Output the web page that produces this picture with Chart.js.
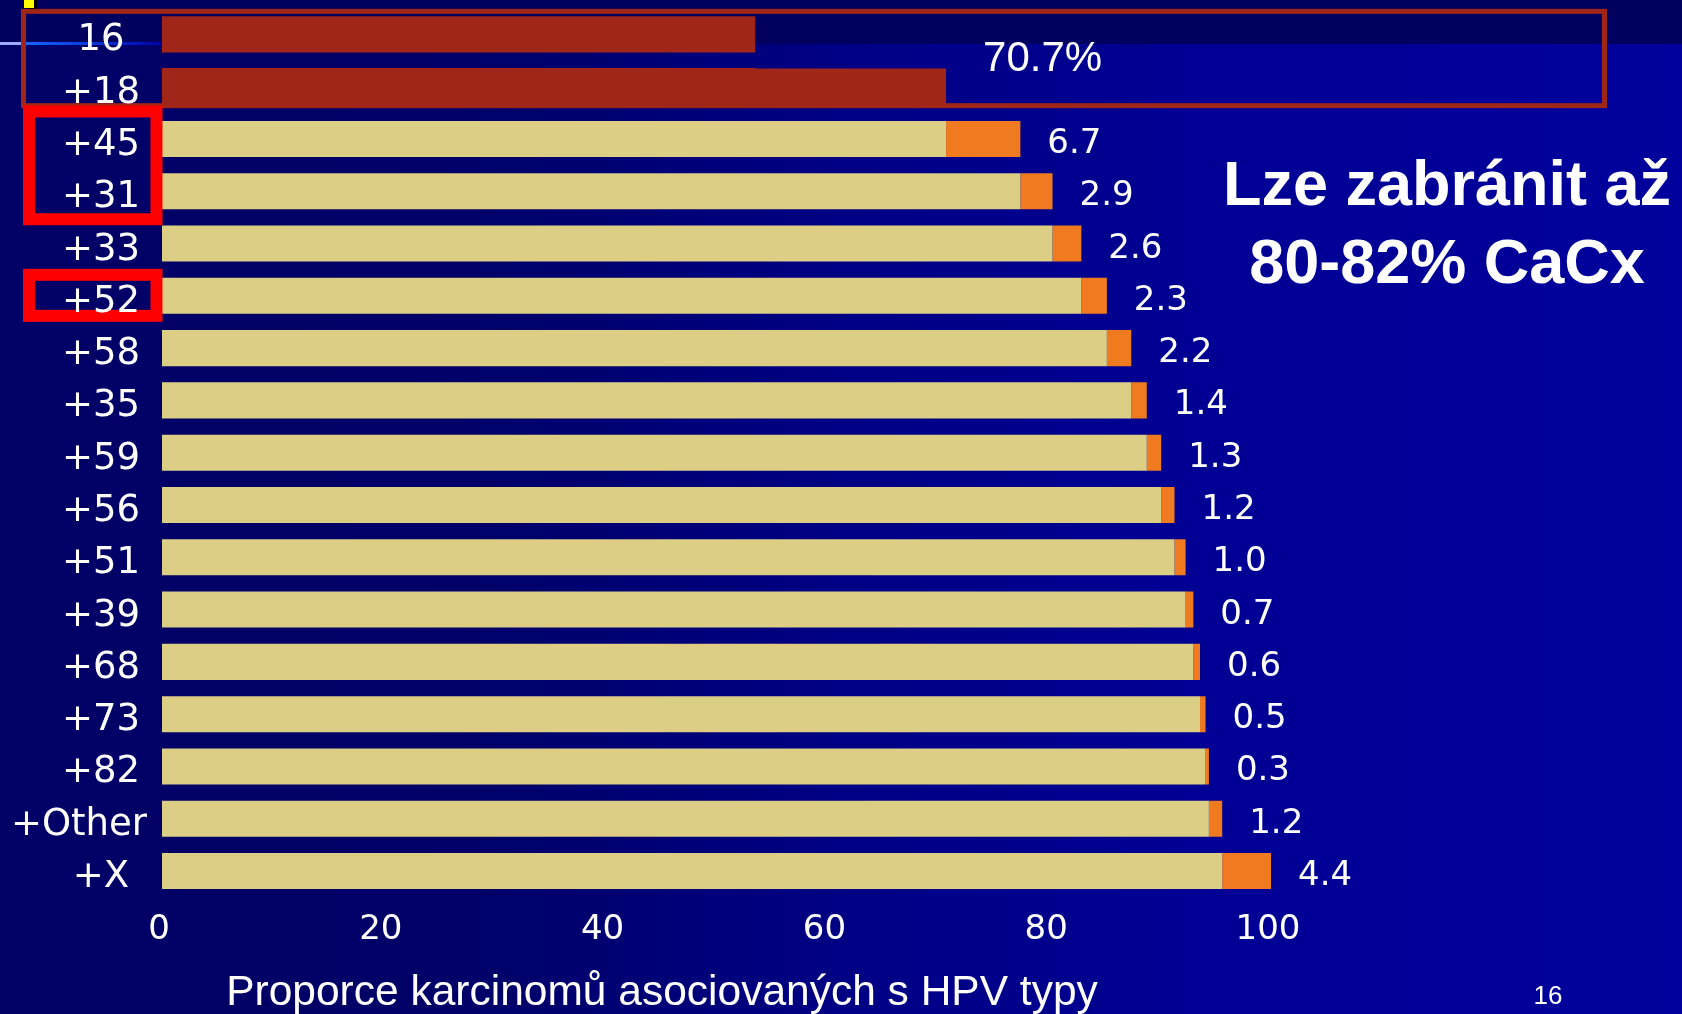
<!DOCTYPE html>
<html>
<head>
<meta charset="utf-8">
<script src="https://cdn.jsdelivr.net/npm/chart.js@4.4.1/dist/chart.umd.min.js"></script>
<style>
  html, body { margin: 0; padding: 0; background: #000066; overflow: hidden; }
  canvas { display: block; }
</style>
</head>
<body>
<canvas id="hpv" width="1682" height="1014"></canvas>
<script>
// HPV types, added one after another
const hpvTypes = ['16', '+18', '+45', '+31', '+33', '+52', '+58', '+35', '+59', '+56',
                  '+51', '+39', '+68', '+73', '+82', '+Other', '+X'];
// share of cancers each added type contributes (%)
const typeShares = [53.5, 17.2, 6.7, 2.9, 2.6, 2.3, 2.2, 1.4, 1.3, 1.2,
                    1.0, 0.7, 0.6, 0.5, 0.3, 1.2, 4.4];
const axisTicks = [0, 20, 40, 60, 80, 100];
const axisTitle = 'Proporce karcinomů asociovaných s HPV typy';
const headline = ['Lze zabránit až', '80-82% CaCx'];
const slideNumber = '16';
const vaccineRows = 2;              // 16 and 18, shown in red
const highlightGroups = [[2, 3], [5]]; // framed labels

// running total before each type is added
const previousTotal = [];
typeShares.reduce((acc, v) => { previousTotal.push(+acc.toFixed(1)); return acc + v; }, 0);
const vaccineTotal = typeShares.slice(0, vaccineRows).reduce((a, b) => a + b, 0);

const RED = '#9F2618';
const TAN = '#DDCE86';
const ORANGE = '#F07A1F';
const SANS = '"Liberation Sans", Arial, sans-serif';
const VERD = '"DejaVu Sans", Verdana, sans-serif';

const W = 1682, H = 1014;

const backdrop = {
  id: 'backdrop',
  beforeDraw(chart) {
    const ctx = chart.ctx;
    ctx.save();
    const g = ctx.createLinearGradient(0, 0, W, 0);
    g.addColorStop(0, '#000066');
    g.addColorStop(0.28, '#000068');
    g.addColorStop(0.5, '#000084');
    g.addColorStop(0.72, '#000094');
    g.addColorStop(1, '#00009C');
    ctx.fillStyle = g;
    ctx.fillRect(0, 0, W, H);
    // dark header band
    ctx.fillStyle = '#00005E';
    ctx.fillRect(0, 0, W, 44);
    // header accent line
    const lg = ctx.createLinearGradient(0, 0, 162, 0);
    lg.addColorStop(0, '#9AA8FF');
    lg.addColorStop(0.14, '#9AA8FF');
    lg.addColorStop(0.15, '#1A66FF');
    lg.addColorStop(0.5, '#0A40E0');
    lg.addColorStop(1, '#0000A8');
    ctx.fillStyle = lg;
    ctx.fillRect(0, 42, 162, 3);
    // small corner marker
    ctx.fillStyle = '#000000';
    ctx.fillRect(27, 0, 10, 9);
    ctx.fillStyle = '#FFFF00';
    ctx.fillRect(24, 0, 10, 8);
    ctx.restore();
  }
};

const annotations = {
  id: 'annotations',
  afterDraw(chart) {
    const ctx = chart.ctx;
    const yScale = chart.scales.y;
    const shares = chart.getDatasetMeta(1).data;
    ctx.save();

    // frame round the 16 + 18 rows
    const y0 = yScale.getPixelForValue(0);
    const y1 = yScale.getPixelForValue(1);
    ctx.strokeStyle = RED;
    ctx.lineWidth = 5;
    ctx.strokeRect(23.5, y0 - 23, 1604.5 - 23.5, (y1 + 19) - (y0 - 23));

    // red frames round highlighted labels
    ctx.strokeStyle = '#FF0000';
    ctx.lineWidth = 12;
    highlightGroups.forEach((grp, k) => {
      const ya = yScale.getPixelForValue(grp[0]);
      const yb = yScale.getPixelForValue(grp[grp.length - 1]);
      const top = k === 0 ? ya - 27.5 : ya - 21;
      const bot = k === 0 ? yb + 28 : yb + 20;
      ctx.strokeRect(29, top, 156.5 - 29, bot - top);
    });

    // category labels
    ctx.fillStyle = '#FFFFFF';
    ctx.font = '37px ' + VERD;
    ctx.textBaseline = 'alphabetic';
    hpvTypes.forEach((lab, i) => {
      const y = yScale.getPixelForValue(i);
      const w = ctx.measureText(lab).width;
      let x = 101 - w / 2;
      if (x + w > 147) x = 147 - w;
      ctx.textAlign = 'left';
      ctx.fillText(lab, x, y + 16);
    });

    // increment labels
    ctx.font = '34px ' + VERD;
    ctx.textAlign = 'left';
    shares.forEach((bar, i) => {
      if (i < vaccineRows) return;
      ctx.fillText(typeShares[i].toFixed(1), bar.x + 27, bar.y + 14);
    });

    // combined share of 16 + 18
    ctx.font = '42px ' + SANS;
    const b1 = shares[vaccineRows - 1];
    const midY = (shares[0].y + b1.y) / 2;
    ctx.fillText(vaccineTotal.toFixed(1) + '%', b1.x + 37, midY + 11);

    // headline
    ctx.font = 'bold 63px ' + SANS;
    ctx.textAlign = 'center';
    ctx.fillText(headline[0], 1447, 205);
    ctx.fillText(headline[1], 1447, 283);

    // axis title
    ctx.font = '42.5px ' + SANS;
    ctx.fillText(axisTitle, 662, 1005);

    // slide number
    ctx.font = '26px ' + SANS;
    ctx.fillText(slideNumber, 1548, 1004);
    ctx.restore();
  }
};

new Chart(document.getElementById('hpv'), {
  type: 'bar',
  data: {
    labels: hpvTypes,
    datasets: [
      {
        label: 'previous',
        data: previousTotal,
        backgroundColor: previousTotal.map((v, i) => i < vaccineRows ? RED : TAN),
        // let the red 16 segment overlap its red 18 neighbour so no seam shows
        inflateAmount: (c) => (c.dataIndex < vaccineRows ? 0.6 : 'auto'),
        barPercentage: 0.69,
        categoryPercentage: 1.0,
        borderWidth: 0
      },
      {
        label: 'added',
        data: typeShares,
        backgroundColor: typeShares.map((v, i) => i < vaccineRows ? RED : ORANGE),
        barPercentage: 0.69,
        categoryPercentage: 1.0,
        borderWidth: 0
      }
    ]
  },
  options: {
    indexAxis: 'y',
    responsive: false,
    animation: false,
    devicePixelRatio: 1,
    layout: { padding: { left: 0, right: W - 1271, top: 8.2, bottom: 0 } },
    plugins: { legend: { display: false }, tooltip: { enabled: false } },
    scales: {
      x: {
        stacked: true,
        min: axisTicks[0],
        max: axisTicks[axisTicks.length - 1],
        afterBuildTicks(s) { s.ticks = axisTicks.map(v => ({ value: v })); },
        ticks: {
          color: '#FFFFFF',
          font: { family: 'DejaVu Sans', size: 34 },
          padding: 13,
          labelOffset: -3,
          maxRotation: 0,
          autoSkip: false
        },
        grid: { display: false, drawTicks: false },
        border: { display: false },
        afterFit(s) { s.height = H - 897.2; }
      },
      y: {
        stacked: true,
        ticks: { display: false },
        grid: { display: false, drawTicks: false },
        border: { display: false },
        afterFit(s) { s.width = 162; }
      }
    }
  },
  plugins: [backdrop, annotations]
});
</script>
</body>
</html>
